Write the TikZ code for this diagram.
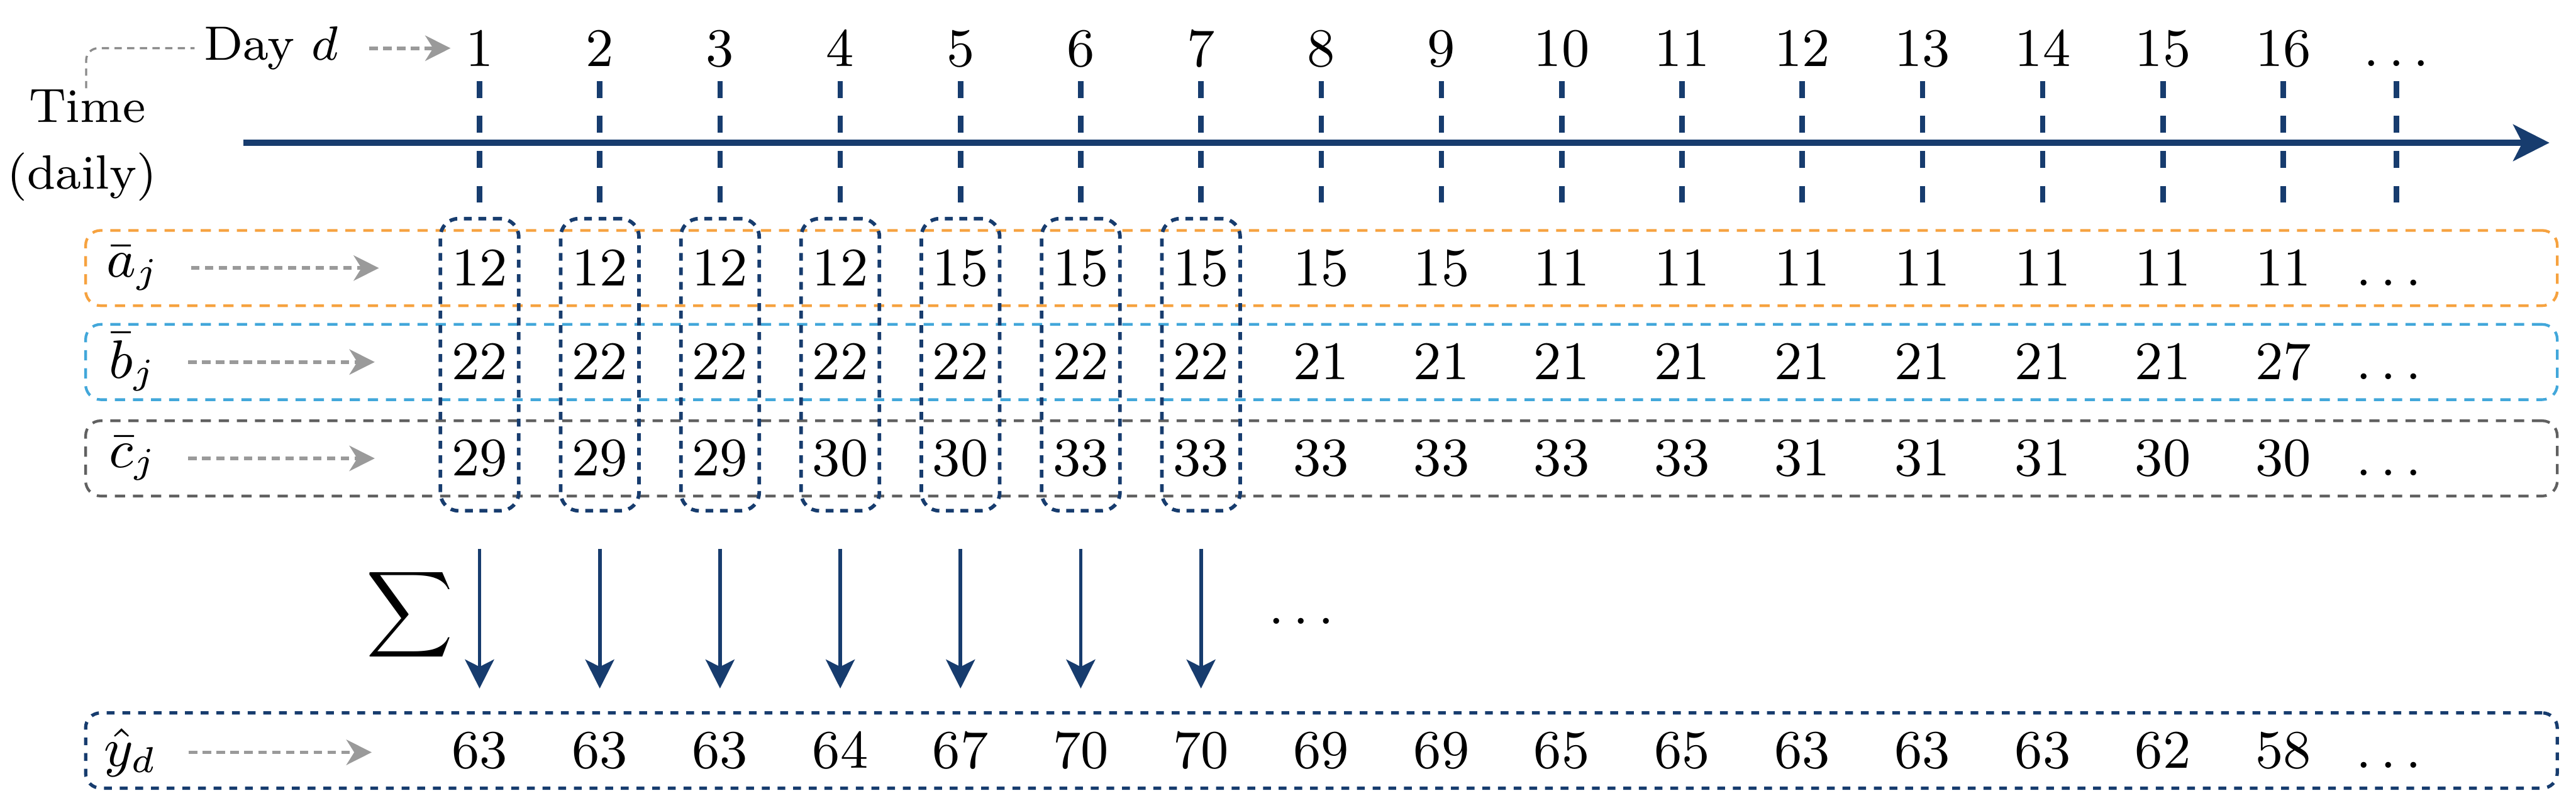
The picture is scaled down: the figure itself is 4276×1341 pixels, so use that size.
\documentclass[tikz,border=0pt]{standalone}
\usetikzlibrary{arrows.meta}
\definecolor{navy}{HTML}{173C6E}
\definecolor{orng}{HTML}{F6A23F}
\definecolor{lblue}{HTML}{42A7DA}
\definecolor{dgray}{HTML}{606060}
\definecolor{agray}{HTML}{9A9A9A}
\begin{document}
\begin{tikzpicture}[x=0.1pt,y=-0.1pt,
  rowbox/.style={draw, dash pattern=on 1.7pt off 1.3pt, line width=0.45pt, rounded corners=2.5pt,
    minimum width=410.3pt, minimum height=12.5pt, inner sep=0pt},
  colbox/.style={draw=navy, dash pattern=on 1.3pt off 1.1pt, line width=0.6pt, rounded corners=3pt,
    minimum width=13pt, minimum height=48.5pt, inner sep=0pt},
  num/.style={inner sep=0pt, text height=5.8pt, text depth=0pt, font=\fontsize{9.2}{10}\selectfont},
  topnum/.style={inner sep=0pt, text height=6.1pt, text depth=0pt, font=\fontsize{9.5}{10}\selectfont},
  lbl/.style={inner sep=0pt, font=\fontsize{9}{10}\selectfont},
  txt/.style={inner sep=0pt, font=\fontsize{8}{9}\selectfont},
  garrow/.style={draw=agray, line width=0.6pt, dash pattern=on 1.4pt off 0.9pt,
    -{Stealth[length=4.2pt,width=4.2pt,inset=1.3pt]}},
  gline/.style={draw=agray!90!black, line width=0.35pt, dash pattern=on 1.2pt off 0.9pt},
  sumarrow/.style={draw=navy, line width=0.6pt, -{Stealth[length=4.8pt,width=4.8pt,inset=1.2pt]}},
  axisline/.style={draw=navy, line width=1.1pt, -{Stealth[length=6pt,width=6pt,inset=1.5pt]}},
  tickline/.style={draw=navy, line width=0.9pt, dash pattern=on 2.8pt off 3pt}
]
\useasboundingbox (0,0) rectangle (4276,1341);

% row boxes
\node[rowbox, draw=orng] (ra) at (2193.5,445) {};
\node[rowbox, draw=lblue] (rb) at (2193.5,601) {};
\node[rowbox, draw=dgray] (rc) at (2193.5,761) {};
\node[rowbox, draw=navy, line width=0.55pt, dash pattern=on 1.3pt off 1.3pt] (ry) at (2193.5,1246) {};

% column boxes
\foreach \i in {1,...,7} {
  \node[colbox] (cb\i) at ({796+(\i-1)*199.6},605.5) {};
}

% top numbers and ticks
\foreach \i in {1,...,16} {
  \node[topnum] (t\i) at ({796+(\i-1)*199.6},80) {$\i$};
  \draw[tickline] ([yshift=-2.2pt]t\i.south) -- ++(0,210);
}
\node[topnum] (t17) at (3978,80) {$\dots$};
\draw[tickline] ([yshift=-2.2pt]t17.south) -- ++(0,210);

% axis
\coordinate (axs) at (404,237);
\coordinate (axe) at (4232,237);
\draw[axisline] (axs) -- (axe);

% time labels
\node[txt] (time) at (145,176) {Time};
\node[txt] (daily) at (136,294) {(daily)};
\node[txt] (day) at (450,80) {Day $d$};
\draw[gline, rounded corners=2pt] ([xshift=-0.2pt]time.north) |- ([xshift=-1.4pt]day.west);
\draw[garrow] ([xshift=5pt]day.east) -- ([xshift=-2.3pt]t1.west);

% values
\def\avals{12,12,12,12,15,15,15,15,15,11,11,11,11,11,11,11}
\def\bvals{22,22,22,22,22,22,22,21,21,21,21,21,21,21,21,27}
\def\cvals{29,29,29,30,30,33,33,33,33,33,33,31,31,31,30,30}
\def\yvals{63,63,63,64,67,70,70,69,69,65,65,63,63,63,62,58}
\foreach \v [count=\i] in \avals { \node[num] (a\i) at ({796+(\i-1)*199.6},445) {$\v$}; }
\foreach \v [count=\i] in \bvals { \node[num] (b\i) at ({796+(\i-1)*199.6},601) {$\v$}; }
\foreach \v [count=\i] in \cvals { \node[num] (c\i) at ({796+(\i-1)*199.6},761) {$\v$}; }
\foreach \v [count=\i] in \yvals { \node[num] (y\i) at ({796+(\i-1)*199.6},1246) {$\v$}; }
\node[num] (a17) at (3965,445) {$\dots$};
\node[num] (b17) at (3965,601) {$\dots$};
\node[num] (c17) at (3965,761) {$\dots$};
\node[num] (y17) at (3965,1246) {$\dots$};

% row labels
\node[lbl] (la) at (221,445) {$\bar{a}_j$};
\node[lbl] (lb) at (221,601) {$\bar{b}_j$};
\node[lbl] (lc) at (221,761) {$\bar{c}_j$};
\node[lbl] (ly) at (217,1249) {$\hat{y}_d$};
\coordinate (ea) at (629,445);
\coordinate (eb) at (622,601);
\coordinate (ec) at (622,761);
\coordinate (ey) at (617,1249);
\draw[garrow] ([xshift=5pt]la.east) -- (ea);
\draw[garrow] ([xshift=5pt]lb.east) -- (eb);
\draw[garrow] ([xshift=5pt]lc.east) -- (ec);
\draw[garrow] ([xshift=5pt]ly.east) -- (ey);

% sum arrows
\foreach \i in {1,...,7} {
  \draw[sumarrow] ([yshift=-6pt]cb\i.south) -- ([yshift=7.2pt]y\i.north);
}
\node[inner sep=0pt, font=\fontsize{9.8}{10}\selectfont] (sig) at (680,1020) {$\displaystyle\sum$};
\node[anchor=base, inner sep=0pt, font=\fontsize{9}{10}\selectfont] (mdots) at (2160,1036) {$\dots$};
\end{tikzpicture}
\end{document}
